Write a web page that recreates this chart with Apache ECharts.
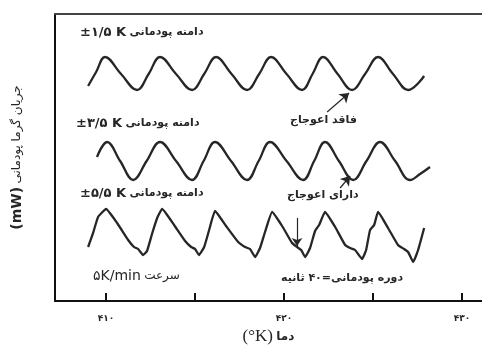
<!DOCTYPE html>
<html>
<head>
<meta charset="utf-8">
<script src="https://cdn.jsdelivr.net/npm/echarts@6/dist/echarts.min.js"></script>
<style>
  html, body { margin: 0; padding: 0; background: #fff; }
  #chart { width: 482px; height: 345px; }
</style>
</head>
<body>
<div id="chart"></div>
<script>
// temperature (K) and signal height (arbitrary units)
const topX = [408.99, 409.44, 409.94, 410.84, 411.74, 412.39, 413.03, 413.93, 414.83, 415.51, 416.18, 417.05, 417.92, 418.60, 419.27, 420.14, 421.01, 421.60, 422.19, 423.01, 423.82, 424.55, 425.28, 426.12, 426.97, 427.87];
const topY = [215, 229, 244, 227, 211, 227, 244, 227, 211, 227, 244, 227, 211, 227, 244, 227, 211, 227, 244, 227, 211, 227, 244, 227, 211, 225];

const midX = [409.49, 410.06, 410.79, 411.52, 412.28, 413.03, 413.93, 414.83, 415.48, 416.12, 417.02, 417.92, 418.57, 419.21, 420.14, 421.07, 421.69, 422.30, 423.08, 423.88, 424.63, 425.39, 426.24, 427.08, 427.64, 428.20];
const midY = [144, 159, 140, 121, 140, 159, 140, 121, 140, 159, 140, 121, 140, 159, 140, 121, 140, 159, 140, 121, 140, 159, 140, 121, 127, 134];

const lowX = [408.99, 409.27, 409.55, 410.00, 410.62, 411.24, 411.57, 411.80, 412.08, 412.30, 412.58, 412.87, 413.15, 413.82, 414.44, 414.78, 415.00, 415.22, 415.51, 415.79, 416.12, 416.74, 417.42, 417.81, 418.09, 418.37, 418.65, 418.93, 419.33, 419.89, 420.45, 420.73, 420.96, 421.18, 421.46, 421.74, 421.97, 422.30, 422.87, 423.43, 423.71, 423.99, 424.38, 424.61, 424.83, 425.06, 425.28, 425.84, 426.40, 426.74, 426.97, 427.25, 427.53, 427.87];
const lowY = [54, 68, 84, 92, 78, 61, 54, 52, 46, 50, 67, 83, 92, 76, 60, 54, 52, 46, 54, 71, 90, 75, 59, 54, 52, 44, 53, 69, 89, 75, 58, 54, 51, 44, 53, 70, 76, 89, 74, 56, 53, 51, 42, 51, 71, 76, 89, 73, 56, 52, 49, 39, 51, 73];

const tickValues = [410, 415, 420, 425, 430];
const labelValues = [410, 420, 430];
const labelText = ['۴۱۰', '۴۲۰', '۴۳۰'];

const pair = (xs, ys) => xs.map((x, i) => [x, ys[i]]);

const faFont = 'DejaVu Sans';
const ink = '#262626';

function ampLabel(num, x, y) {
  return {
    type: 'text', left: x, top: y,
    style: {
      text: '{n|±' + num + ' K} {p|دامنه پودمانی}',
      rich: {
        n: { fontFamily: faFont, fontSize: 13, fontWeight: 'bold', fill: ink },
        p: { fontFamily: faFont, fontSize: 11, fontWeight: 'bold', fill: ink }
      }
    }
  };
}

function note(text, x, y) {
  return { type: 'text', left: x, top: y, style: { text: text, fontFamily: faFont, fontSize: 11, fontWeight: 'bold', fill: ink } };
}

const option = {
  animation: false,
  grid: { left: 55, right: 0, top: 14, bottom: 44, outerBoundsMode: 'none' },
  xAxis: [
    {
      type: 'value', min: 407.13, max: 431.12,
      name: '{a|(°K)} {b|دما}',
      nameLocation: 'middle', nameGap: 25,
      nameTextStyle: {
        rich: {
          a: { fontFamily: 'Liberation Serif', fontSize: 17, color: ink },
          b: { fontFamily: faFont, fontSize: 12, fontWeight: 'bold', color: ink }
        }
      },
      axisLine: { lineStyle: { color: '#111', width: 2 } },
      axisTick: { show: true, inside: true, length: 8, customValues: tickValues, lineStyle: { color: '#111', width: 2 } },
      axisLabel: {
        customValues: labelValues, margin: 13,
        fontFamily: faFont, fontSize: 9, fontWeight: 'bold', color: ink,
        formatter: v => labelText[labelValues.indexOf(v)] || ''
      },
      splitLine: { show: false }
    },
    {
      type: 'value', position: 'top', min: 407.13, max: 431.12,
      axisLine: { show: true, lineStyle: { color: '#444', width: 2 } },
      axisTick: { show: false }, axisLabel: { show: false }, splitLine: { show: false }
    }
  ],
  yAxis: {
    type: 'value', min: 0, max: 287,
    name: '{a|(mW)} {b|جریان گرما پودمانی}',
    nameLocation: 'middle', nameGap: 31, nameRotate: 90,
    nameTextStyle: {
      rich: {
        a: { fontFamily: faFont, fontSize: 14, fontWeight: 'bold', color: ink },
        b: { fontFamily: faFont, fontSize: 12, color: ink }
      }
    },
    axisLine: { show: true, lineStyle: { color: '#111', width: 2 } },
    axisTick: { show: false }, axisLabel: { show: false }, splitLine: { show: false }
  },
  series: [
    {
      type: 'line', data: pair(topX, topY), smooth: 0.4, showSymbol: false,
      lineStyle: { color: ink, width: 2.3 },
      markLine: {
        silent: true, symbol: ['none', 'arrow'], symbolSize: 9,
        label: { show: false },
        lineStyle: { color: ink, width: 1.2, type: 'solid' },
        data: [[{ coord: [422.42, 189] }, { coord: [423.65, 208] }]]
      }
    },
    {
      type: 'line', data: pair(midX, midY), smooth: 0.4, showSymbol: false,
      lineStyle: { color: ink, width: 2.3 },
      markLine: {
        silent: true, symbol: ['none', 'arrow'], symbolSize: 9,
        label: { show: false },
        lineStyle: { color: ink, width: 1.2, type: 'solid' },
        data: [[{ coord: [423.15, 113] }, { coord: [423.71, 125] }]]
      }
    },
    {
      type: 'line', data: pair(lowX, lowY), smooth: 0.12, showSymbol: false,
      lineStyle: { color: ink, width: 2.3 },
      markLine: {
        silent: true, symbol: ['none', 'arrow'], symbolSize: 8,
        label: { show: false },
        lineStyle: { color: ink, width: 1.2, type: 'solid' },
        data: [[{ coord: [420.73, 83] }, { coord: [420.73, 55] }]]
      }
    }
  ],
  graphic: [
    ampLabel('۱/۵', 80, 26),
    ampLabel('۳/۵', 76, 117),
    ampLabel('۵/۵', 80, 187),
    note('فاقد اعوجاج', 290, 115),
    note('دارای اعوجاج', 287, 190),
    {
      type: 'text', left: 93, top: 269,
      style: {
        text: '{n|۵K/min} {p|سرعت}',
        rich: {
          n: { fontFamily: faFont, fontSize: 14, fill: ink },
          p: { fontFamily: faFont, fontSize: 12, fill: ink }
        }
      }
    },
    note('دوره پودمانی=۴۰ ثانیه', 281, 273)
  ]
};

const myChart = echarts.init(document.getElementById('chart'));
myChart.setOption(option);
</script>
</body>
</html>
